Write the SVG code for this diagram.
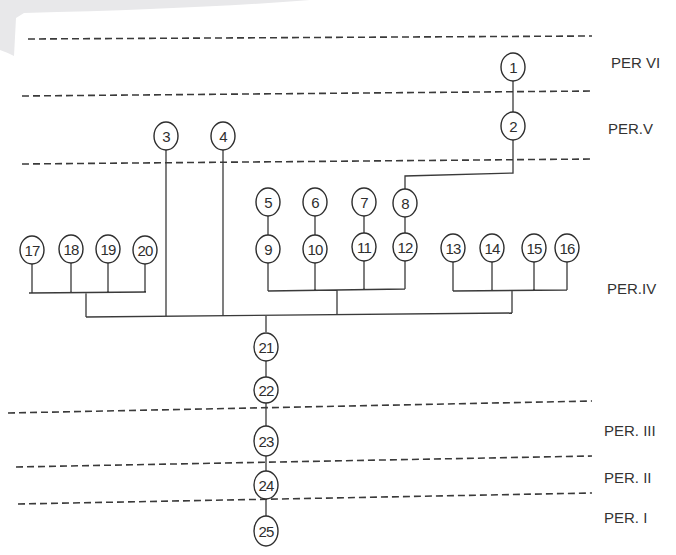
<svg xmlns="http://www.w3.org/2000/svg" width="676" height="555" viewBox="0 0 676 555">
<defs>
<style>
.bg{fill:#ffffff}
.smear{fill:#e8e8ea}
.dash{fill:none;stroke:#3a3a3a;stroke-width:1.6;stroke-dasharray:7 4}
.conn{fill:none;stroke:#3a3a3a;stroke-width:1.3}
.node ellipse{fill:#ffffff;stroke:#2e2e2e;stroke-width:1.4}
.node text{font-family:"Liberation Sans",Arial,sans-serif;font-size:15px;letter-spacing:-0.8px;fill:#2e2e2e;text-anchor:middle;dominant-baseline:central}
.per{font-family:"Liberation Sans",Arial,sans-serif;font-size:15px;fill:#333333;dominant-baseline:central}
</style>
</defs>
<rect class="bg" x="0" y="0" width="676" height="555"/>
<path class="smear" d="M0,0 L310,0 Q200,9 24,13 L16,18 L14,56 Q6,52 0,50 Z"/>
<g id="period-lines">
<line class="dash" x1="28" y1="39" x2="592" y2="36"/>
<line class="dash" x1="22" y1="96" x2="592" y2="91"/>
<line class="dash" x1="22" y1="164" x2="592" y2="159"/>
<line class="dash" x1="8" y1="413" x2="592" y2="401"/>
<line class="dash" x1="16" y1="467" x2="592" y2="456"/>
<line class="dash" x1="18" y1="504" x2="592" y2="493"/>
</g>
<g id="labels">
<text class="per" x="611" y="62">PER VI</text>
<text class="per" x="608" y="128">PER.V</text>
<text class="per" x="607" y="288">PER.IV</text>
<text class="per" x="604" y="430">PER. III</text>
<text class="per" x="604" y="477">PER. II</text>
<text class="per" x="604" y="517">PER. I</text>
</g>
<g id="connectors">
<path class="conn" d="M513,81 L513,112"/>
<path class="conn" d="M513,140 L513,173 L405,176 L405,189"/>
<path class="conn" d="M166,150 L166,316"/>
<path class="conn" d="M223,150 L223,316"/>
<path class="conn" d="M268,216 L268,235"/>
<path class="conn" d="M315,216 L315,235"/>
<path class="conn" d="M364,216 L364,233"/>
<path class="conn" d="M405,217 L405,233"/>
<path class="conn" d="M32,264 L32,293 M71,263 L71,293 M108,263 L108,293 M145,264 L145,292 M29,293 L146,292 M86,293 L86,317"/>
<path class="conn" d="M268,262 L268,291 M315,263 L315,290 M364,261 L364,290 M405,261 L405,289 M268,291 L405,289 M337,290 L337,315"/>
<path class="conn" d="M453,262 L453,291 M492,262 L492,291 M534,262 L534,290 M567,262 L567,290 M453,291 L567,290 M512,290 L512,313"/>
<path class="conn" d="M86,317 L512,313"/>
<path class="conn" d="M266,316 L266,332"/>
<path class="conn" d="M266,361 L266,377"/>
<path class="conn" d="M266,403 L266,426"/>
<path class="conn" d="M266,456 L266,471"/>
<path class="conn" d="M266,499 L266,516"/>
</g>
<g id="n1" class="node"><ellipse cx="513" cy="67" rx="12" ry="14"/><text x="513" y="67">1</text></g>
<g id="n2" class="node"><ellipse cx="513" cy="126" rx="12" ry="14"/><text x="513" y="126">2</text></g>
<g id="n3" class="node"><ellipse cx="166" cy="136" rx="12" ry="14"/><text x="166" y="136">3</text></g>
<g id="n4" class="node"><ellipse cx="223" cy="136" rx="12" ry="14"/><text x="223" y="136">4</text></g>
<g id="n5" class="node"><ellipse cx="268" cy="202" rx="12" ry="14"/><text x="268" y="202">5</text></g>
<g id="n6" class="node"><ellipse cx="315" cy="202" rx="12" ry="14"/><text x="315" y="202">6</text></g>
<g id="n7" class="node"><ellipse cx="364" cy="202" rx="12" ry="14"/><text x="364" y="202">7</text></g>
<g id="n8" class="node"><ellipse cx="405" cy="203" rx="12" ry="14"/><text x="405" y="203">8</text></g>
<g id="n9" class="node"><ellipse cx="268" cy="249" rx="12" ry="14"/><text x="268" y="249">9</text></g>
<g id="n10" class="node"><ellipse cx="315" cy="249" rx="12" ry="14"/><text x="315" y="249">10</text></g>
<g id="n11" class="node"><ellipse cx="364" cy="247" rx="12" ry="14"/><text x="364" y="247">11</text></g>
<g id="n12" class="node"><ellipse cx="405" cy="247" rx="12" ry="14"/><text x="405" y="247">12</text></g>
<g id="n13" class="node"><ellipse cx="453" cy="248" rx="12" ry="14"/><text x="453" y="248">13</text></g>
<g id="n14" class="node"><ellipse cx="492" cy="248" rx="12" ry="14"/><text x="492" y="248">14</text></g>
<g id="n15" class="node"><ellipse cx="534" cy="248" rx="12" ry="14"/><text x="534" y="248">15</text></g>
<g id="n16" class="node"><ellipse cx="567" cy="248" rx="12" ry="14"/><text x="567" y="248">16</text></g>
<g id="n17" class="node"><ellipse cx="32" cy="250" rx="12" ry="14"/><text x="32" y="250">17</text></g>
<g id="n18" class="node"><ellipse cx="71" cy="249" rx="12" ry="14"/><text x="71" y="249">18</text></g>
<g id="n19" class="node"><ellipse cx="108" cy="249" rx="12" ry="14"/><text x="108" y="249">19</text></g>
<g id="n20" class="node"><ellipse cx="145" cy="250" rx="12" ry="14"/><text x="145" y="250">20</text></g>
<g id="n21" class="node"><ellipse cx="266" cy="347" rx="12" ry="14"/><text x="266" y="347">21</text></g>
<g id="n22" class="node"><ellipse cx="266" cy="390" rx="12" ry="13"/><text x="266" y="390">22</text></g>
<g id="n23" class="node"><ellipse cx="266" cy="441" rx="12" ry="15"/><text x="266" y="441">23</text></g>
<g id="n24" class="node"><ellipse cx="266" cy="485" rx="12" ry="14"/><text x="266" y="485">24</text></g>
<g id="n25" class="node"><ellipse cx="266" cy="531" rx="12" ry="15"/><text x="266" y="531">25</text></g>
</svg>
